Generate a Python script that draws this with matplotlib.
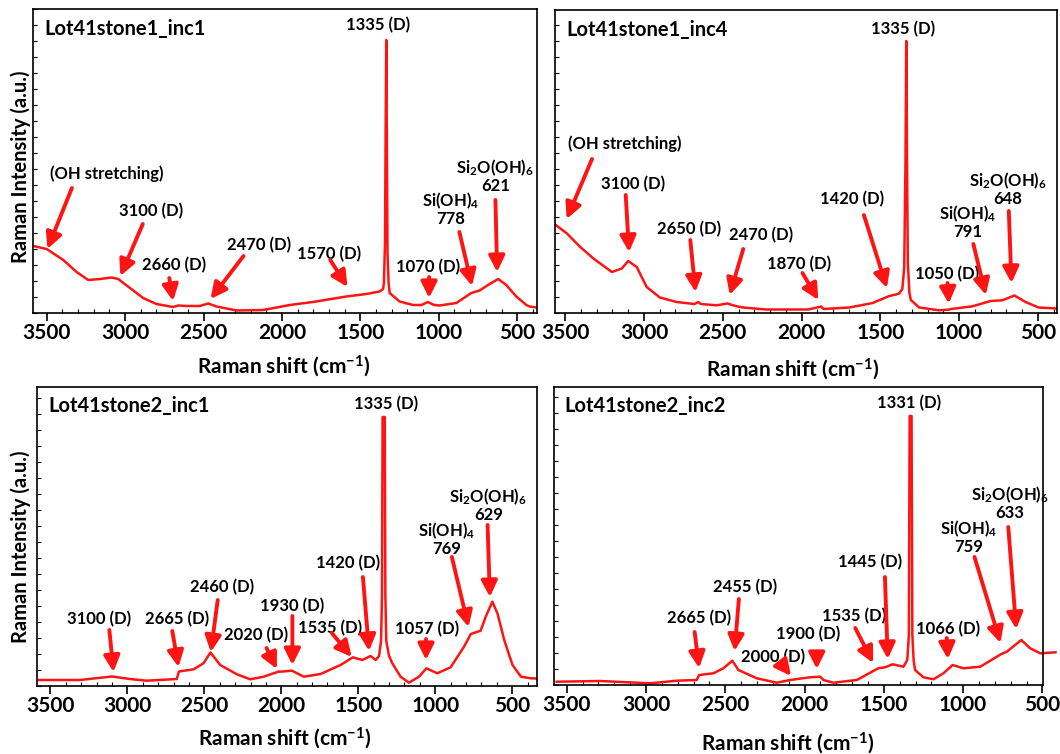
import matplotlib
matplotlib.use("Agg")
import matplotlib.pyplot as plt
from matplotlib.ticker import MultipleLocator, NullFormatter

plt.rcParams['font.family'] = ['Lato', 'DejaVu Sans']
plt.rcParams['font.weight'] = 'bold'
plt.rcParams['mathtext.fontset'] = 'custom'
plt.rcParams['mathtext.rm'] = 'Lato:bold'
plt.rcParams['mathtext.bf'] = 'Lato:bold'
plt.rcParams['mathtext.it'] = 'Lato:bold'

RED = '#ff1414'
W, H = 1060, 754

# ---------------- spectra (Raman shift in cm-1, intensity in a.u.) ----------------
stone1_inc1_shift = [3585, 3500, 3394, 3309, 3235, 3160, 3086, 3044, 2969, 2885, 2800, 2694,
                     2660, 2608, 2524, 2470, 2417, 2290, 2120, 2017, 1950, 1802, 1590, 1462,
                     1377, 1355, 1350, 1343, 1339, 1335, 1331, 1327, 1320, 1313, 1250, 1165,
                     1110, 1070, 1030, 995, 888, 793, 740, 676, 621, 570, 506, 442, 421, 377]
stone1_inc1_int = [67, 64, 53, 41, 33, 34, 35.5, 34, 25, 15, 9, 6,
                   7.5, 7, 7, 9.5, 6.5, 2.5, 3, 6, 8, 11, 16.5, 19,
                   21.5, 24, 30, 70, 180, 273, 170, 60, 30, 20, 11.5, 8,
                   8, 11, 8, 7.5, 10, 20, 22.5, 29, 34, 28, 16.5, 8, 6.5, 5.5]

stone1_inc4_shift = [3560, 3489, 3405, 3321, 3204, 3141, 3100, 3046, 2983, 2899, 2793, 2680,
                     2655, 2640, 2540, 2470, 2420, 2371, 2224, 1958, 1875, 1860, 1696, 1548,
                     1443, 1400, 1380, 1360, 1348, 1340, 1335, 1330, 1325, 1315, 1306, 1253,
                     1127, 1063, 1050, 915, 799, 725, 648, 578, 494, 367]
stone1_inc4_int = [88, 79.5, 66, 54.5, 41, 44.5, 52, 46, 26, 15.5, 11, 9,
                   11, 9, 7.7, 9.5, 7, 5.5, 3.5, 3.5, 6.5, 4, 5.5, 10,
                   17, 18.5, 19.5, 24, 45, 150, 272, 150, 50, 20, 13, 5.5,
                   2.7, 3.4, 4, 6.7, 12, 12.7, 17.5, 11, 5.5, 4.4]

stone2_inc1_shift = [3590, 3309, 3100, 2983, 2874, 2679, 2665, 2569, 2506, 2460, 2397, 2288,
                     2202, 2115, 2020, 1990, 1930, 1854, 1745, 1615, 1535, 1474, 1420, 1387,
                     1365, 1352, 1346, 1342, 1328, 1324, 1318, 1300, 1279, 1225, 1171, 1106,
                     1057, 987, 900, 813, 769, 705, 672, 629, 596, 552, 498, 443, 378, 340]
stone2_inc1_int = [6, 6, 9.5, 7, 5.3, 7, 14.5, 16.7, 22.7, 33.5, 21, 11.7,
                   6.7, 9.3, 14.3, 14.5, 15.3, 9.3, 12, 21, 28.7, 26, 30, 26,
                   30, 45, 90, 269, 269, 90, 45, 30, 22.7, 9.3, 3.3, 9.3,
                   17.7, 12.7, 18.7, 39.3, 52, 55.3, 69.3, 84.3, 72.7, 46, 21, 9.3, 7.7, 7.5]

stone2_inc2_shift = [3563, 3290, 2975, 2806, 2680, 2665, 2575, 2512, 2455, 2417, 2301, 2175,
                     2091, 2000, 1965, 1900, 1881, 1818, 1670, 1535, 1492, 1445, 1376, 1352,
                     1342, 1337, 1325, 1320, 1312, 1303, 1250, 1187, 1124, 1066, 998, 892,
                     787, 759, 724, 633, 577, 513, 417]
stone2_inc2_int = [3.3, 4, 1.7, 4.3, 5, 10, 11.7, 16.7, 24.3, 15, 6.7, 2.3,
                   5, 7, 7.7, 8.3, 5, 2.3, 5, 16.7, 17.7, 20.7, 18.3, 25,
                   50, 269, 269, 50, 25, 15, 7.7, 5.7, 11.7, 20, 16.7, 18.3,
                   28.3, 31, 33.3, 45, 36.7, 31.7, 32.7]

sample_names = ['Lot41stone1_inc1', 'Lot41stone1_inc4', 'Lot41stone2_inc1', 'Lot41stone2_inc2']
x_ticks = [3500, 3000, 2500, 2000, 1500, 1000, 500]

SI4 = r'Si(OH)$_{\mathbf{4}}$'
SI2 = r'Si$_{\mathbf{2}}$O(OH)$_{\mathbf{6}}$'

# peak labels: (text, text position, arrow tail, arrow tip) in data coordinates
notes_1 = [
    ('(OH stretching)', (3118, 139), (3339, 125), (3495, 64)),
    ('3100 (D)', (2837, 102), (2887, 89), (3030, 37)),
    ('2660 (D)', (2689, 48), (2718, 35), (2694, 12)),
    ('2470 (D)', (2148, 68), (2245, 57), (2455, 14)),
    ('1570 (D)', (1699, 59), (1692, 53), (1582, 26)),
    ('1335 (D)', (1385, 288), None, None),
    ('1070 (D)', (1067, 46), (1062, 36), (1062, 15)),
    (SI4 + '\n778', (925, 104), (869, 81), (788, 27)),
    (SI2 + '\n621', (640, 137), (639, 113), (628, 41)),
]
notes_2 = [
    ('(OH stretching)', (3123, 169), (3330, 154), (3491, 94)),
    ('3100 (D)', (3069, 129), (3116, 118), (3095, 61)),
    ('2650 (D)', (2716, 84), (2706, 73), (2673, 21)),
    ('2470 (D)', (2254, 78), (2370, 64), (2456, 18)),
    ('1870 (D)', (2016, 49), (1994, 40), (1893, 13)),
    ('1420 (D)', (1679, 114), (1604, 98), (1458, 25)),
    ('1335 (D)', (1358, 284), None, None),
    ('1050 (D)', (1076, 39), (1073, 30), (1065, 9.4)),
    (SI4 + '\n791', (945, 91), (909, 69), (830, 18)),
    (SI2 + '\n648', (689, 124), (684, 102), (667, 30)),
]
notes_3 = [
    ('3100 (D)', (3187, 67), (3117, 56), (3090, 14)),
    ('2665 (D)', (2675, 67), (2708, 55), (2668, 19)),
    ('2460 (D)', (2383, 99), (2413, 86), (2458, 34)),
    ('2020 (D)', (2166, 51), (2096, 38), (2029, 17)),
    ('1930 (D)', (1928, 80), (1928, 70), (1928, 21)),
    ('1535 (D)', (1681, 58), (1672, 53), (1542, 29)),
    ('1420 (D)', (1565, 123), (1470, 109), (1430, 35)),
    ('1335 (D)', (1320, 282), None, None),
    ('1057 (D)', (1055, 57), (1060, 47), (1060, 26)),
    (SI4 + '\n769', (925, 147), (892, 129), (784, 59)),
    (SI2 + '\n629', (655, 181), (660, 161), (645, 89)),
]
notes_4 = [
    ('2665 (D)', (2665, 67), (2693, 53), (2665, 17)),
    ('2455 (D)', (2378, 98), (2414, 86), (2441, 34)),
    ('2000 (D)', (2197, 28), (2149, 22), (2085, 9)),
    ('1900 (D)', (1979, 51), (1923, 33), (1923, 16)),
    ('1535 (D)', (1689, 69), (1680, 57), (1567, 22)),
    ('1445 (D)', (1589, 123), (1493, 108), (1475, 26)),
    ('1331 (D)', (1339, 282), None, None),
    ('1066 (D)', (1092, 56), (1103, 47), (1096, 26)),
    (SI4 + '\n759', (962, 148), (928, 128), (764, 42)),
    (SI2 + '\n633', (703, 182), (715, 158), (665, 56)),
]

# panel frames in figure pixels: (left, top, right, bottom), x range
frames = [
    ((33, 9, 537, 313), (3587, 374)),
    ((555, 10, 1057, 313), (3565, 378)),
    ((37, 387, 537, 686), (3587, 339)),
    ((554, 387, 1043, 685), (3580, 496)),
]
spectra = [
    (stone1_inc1_shift, stone1_inc1_int, notes_1),
    (stone1_inc4_shift, stone1_inc4_int, notes_2),
    (stone2_inc1_shift, stone2_inc1_int, notes_3),
    (stone2_inc2_shift, stone2_inc2_int, notes_4),
]

fig = plt.figure(figsize=(W / 100, H / 100), dpi=100)
fig.patch.set_facecolor('white')


def fig_xy(px, py):
    return px / W, 1 - py / H


for i, ((box, xr), (shift, inten, notes), name) in enumerate(zip(frames, spectra, sample_names)):
    l, t, r, b = box
    ax = fig.add_axes([l / W, 1 - b / H, (r - l) / W, (b - t) / H])
    line, = ax.plot(shift, inten, color=RED, lw=1.8, solid_joinstyle='round')
    if i == 3:
        # this spectrum runs a little past the right frame edge
        line.set_clip_on(False)
    ax.set_xlim(*xr)
    ax.set_ylim(0, b - t)
    ax.set_xticks(x_ticks)
    ax.xaxis.set_minor_locator(MultipleLocator(100))
    ax.yaxis.set_major_locator(MultipleLocator(16))
    ax.yaxis.set_major_formatter(NullFormatter())
    ax.tick_params(axis='x', which='major', direction='out', length=6, width=1.2,
                   labelsize=15, pad=1)
    ax.tick_params(axis='x', which='minor', direction='in', length=3, width=0.8)
    ax.tick_params(axis='y', which='major', direction='in', length=3, width=0.8)
    for lab in ax.get_xticklabels():
        lab.set_fontweight('bold')
    for sp in ax.spines.values():
        sp.set_linewidth(1.2)
        sp.set_color('black')
    ax.text(0.022, 0.935, name, transform=ax.transAxes, fontsize=14.5,
            fontweight='bold', ha='left', va='center')
    for txt, pos, tail, tip in notes:
        ax.text(pos[0], pos[1], txt, fontsize=12, fontweight='bold', ha='center',
                va='center', linespacing=1.0)
        if tip is not None:
            ax.annotate('', xy=tip, xytext=tail,
                        arrowprops=dict(arrowstyle='-|>,head_length=0.6,head_width=0.3',
                                        color=RED, lw=2.8, mutation_scale=16,
                                        shrinkA=0, shrinkB=0))

xlab = r'Raman shift (cm$^{\mathbf{-1}}$)'
for px, py in [(284, 366), (793, 369), (285, 738), (788, 743)]:
    fig.text(*fig_xy(px, py), xlab, fontsize=15, fontweight='bold', ha='center', va='center')
for px, py in [(21, 167), (21, 547)]:
    fig.text(*fig_xy(px, py), 'Raman Intensity (a.u.)', fontsize=14.5, fontweight='bold',
             rotation=90, ha='center', va='center')

fig.savefig('out.png', dpi=100, facecolor='white')
